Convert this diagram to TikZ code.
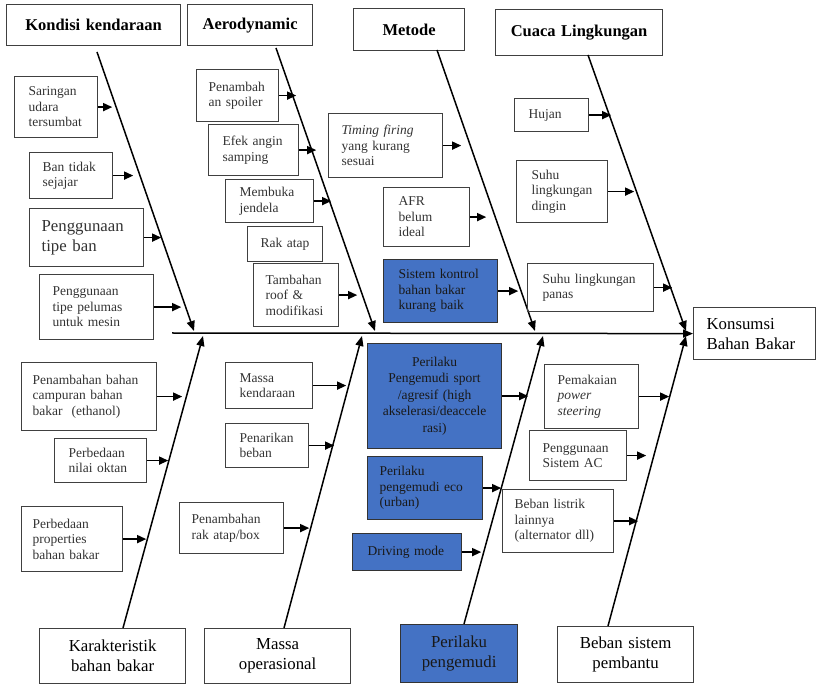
\documentclass[tikz,border=0pt]{standalone}
\usepackage{fontspec}
\setmainfont{Liberation Serif}
\usetikzlibrary{arrows.meta}
\definecolor{bblue}{HTML}{4472C4}
\definecolor{bgray}{HTML}{404040}
\definecolor{tgray}{HTML}{333333}
\newcommand\sbx[8][]{%
  \pgfmathsetmacro\sbw{#5-#3}%
  \pgfmathsetmacro\sbh{#6-#4}%
  \pgfmathsetmacro\sbt{#5-#3-2*#7}%
  \node[#1,inner xsep=#7pt,minimum width=\sbw pt,minimum height=\sbh pt,text width=\sbt pt] (#2) at (#3,#4) {#8};}
\begin{document}
\begin{tikzpicture}[x=1pt,y=-1pt,
  bx/.style={draw=bgray,line width=1.2pt,anchor=north west,inner ysep=1pt},
  sub/.style={bx,text=tgray,font=\fontsize{13.5}{15.5}\selectfont,align=left},
  hdr/.style={bx,text=black,font=\bfseries\fontsize{16.5}{19}\selectfont,align=center},
  lbl/.style={bx,text=black,font=\fontsize{16.8}{20}\selectfont,align=center},
  bluebox/.style={fill=bblue,draw=black!80,text=black!90},
  bone/.style={line width=1.5pt,-{Triangle[length=10pt,width=8pt]}},
  arr/.style={line width=1.4pt,-{Triangle[length=9pt,width=8pt]}}]
\path[use as bounding box] (0,0) rectangle (817,684);
% headers
\sbx[hdr]{hk}{6}{4}{180}{45}{4}{Kondisi kendaraan}
\sbx[hdr]{ha}{187}{4}{312}{45}{4}{Aerodynamic}
\sbx[hdr]{hm}{353}{8}{464}{50}{4}{Metode}
\sbx[hdr]{hc}{495}{9}{662}{55}{4}{Cuaca Lingkungan}
% bottom labels
\sbx[lbl]{lk}{39}{628}{185}{683}{4}{Karakteristik\\bahan bakar}
\sbx[lbl]{lo}{204}{628}{350}{683}{4}{Massa\\operasional}
\sbx[lbl,bluebox]{lp}{400}{624}{517}{682}{4}{Perilaku\\pengemudi}
\sbx[lbl]{lb}{557}{626}{693}{682}{4}{Beban sistem\\pembantu}
% effect
\sbx[lbl,align=left]{ks}{693}{307}{815}{359}{13}{Konsumsi\\Bahan Bakar}
% spine
\coordinate (sp0) at (172,333);
\draw[bone] (sp0) -- (ks.west);
% bones
\coordinate (kb1) at (97,52);   \coordinate (kb2) at (194,331);
\coordinate (ab1) at (276,48);  \coordinate (ab2) at (375,331);
\coordinate (mb1) at (437,50);  \coordinate (mb2) at (535,331);
\coordinate (cb1) at (588,55);  \coordinate (cb2) at (686,331);
\coordinate (lkb1) at (123,628); \coordinate (lkb2) at (203,336);
\coordinate (lob1) at (284,628); \coordinate (lob2) at (362,336);
\coordinate (lpb1) at (464,624); \coordinate (lpb2) at (543,336);
\coordinate (lbb1) at (608,626); \coordinate (lbb2) at (686,336);
\foreach \b in {kb,ab,mb,cb,lkb,lob,lpb,lbb} {\draw[bone] (\b1) -- (\b2);}
% Kondisi kendaraan
\sbx[sub]{s1}{14}{76}{97}{137}{14}{Saringan\\udara\\tersumbat}
\sbx[sub]{s2}{29}{152}{112}{198}{13}{Ban tidak\\sejajar}
\sbx[sub,font=\fontsize{16.8}{19.5}\selectfont]{s3}{29}{208}{143}{266}{12}{Penggunaan\\tipe ban}
\sbx[sub]{s4}{39}{274}{153}{339}{13}{Penggunaan\\tipe pelumas\\untuk mesin}
\draw[arr] (s1.east) -- ++(14,0);
\draw[arr] (s2.east) -- ++(20,0);
\draw[arr] (s3.east) -- ++(17,0);
\draw[arr] (s4.east) -- ++(27,0);
% Aerodynamic
\sbx[sub]{a1}{196}{69}{278}{121}{12}{Penambah\\an spoiler\\[4pt]}
\sbx[sub]{a2}{208}{124}{298}{175}{14}{Efek angin\\samping}
\sbx[sub]{a3}{225}{179}{313}{222}{14}{Membuka\\jendela}
\sbx[sub,align=center]{a4}{247}{226}{322}{261}{4}{Rak atap}
\sbx[sub]{a5}{253}{263}{338}{326}{12}{Tambahan\\roof \&\\modifikasi}
\draw[arr] (a1.east) -- ++(17,0);
\draw[arr] (a2.east) -- ++(17,0);
\draw[arr] (a3.east) -- ++(17,0);
\draw[arr] (a5.east) -- ++(18,0);
% Metode
\sbx[sub]{m1}{328}{113}{442}{177}{13}{\textit{Timing firing}\\yang kurang\\sesuai}
\sbx[sub]{m2}{383}{187}{469}{246}{15}{AFR\\belum\\ideal}
\sbx[sub,bluebox]{m3}{383}{259}{497}{322}{15}{Sistem kontrol\\bahan bakar\\kurang baik}
\draw[arr] (m1.east) -- ++(18,0);
\draw[arr] (m2.east) -- ++(16,0);
\draw[arr] (m3.east) -- ++(20,0);
% Cuaca
\sbx[sub]{c1}{514}{98}{588}{131}{14}{Hujan}
\sbx[sub]{c2}{516}{160}{607}{222}{15}{Suhu\\lingkungan\\dingin}
\sbx[sub]{c3}{527}{263}{653}{311}{15}{Suhu lingkungan\\panas}
\draw[arr] (c1.east) -- ++(22,0);
\draw[arr] (c2.east) -- ++(26,0);
\draw[arr] (c3.east) -- ++(18,0);
% Karakteristik
\sbx[sub]{k1}{21}{362}{156}{430}{11}{Penambahan bahan\\campuran bahan\\bakar\ \ (ethanol)}
\sbx[sub]{k2}{54}{438}{146}{482}{14}{Perbedaan\\nilai oktan}
\sbx[sub]{k3}{21}{506}{122}{571}{11}{Perbedaan\\properties\\bahan bakar}
\draw[arr] (k1.east) -- ++(25,0);
\draw[arr] (k2.east) -- ++(21,0);
\draw[arr] (k3.east) -- ++(23,0);
% Massa
\sbx[sub]{o1}{225}{362}{312}{408}{14}{Massa\\kendaraan}
\sbx[sub]{o2}{225}{423}{308}{467}{14}{Penarikan\\beban}
\sbx[sub]{o3}{179}{502}{283}{553}{12}{Penambahan\\rak atap/box}
\draw[arr] (o1.east) -- ++(33,0);
\draw[arr] (o2.east) -- ++(25,0);
\draw[arr] (o3.east) -- ++(25,0);
% Perilaku
\sbx[sub,bluebox,align=center,font=\fontsize{13.5}{16.5}\selectfont]{p1}{367}{343}{501}{448}{3}{Perilaku\\Pengemudi sport\\/agresif (high\\akselerasi/deaccele\\rasi)}
\sbx[sub,bluebox]{p2}{367}{456}{482}{519}{12}{Perilaku\\pengemudi eco\\(urban)}
\sbx[sub,bluebox]{p3}{352}{533}{461}{570}{15}{Driving mode}
\draw[arr] (p1.east) -- ++(26,0);
\draw[arr] (p2.east) -- ++(18,0);
\draw[arr] (p3.east) -- ++(19,0);
% Beban
\sbx[sub]{b1}{544}{364}{638}{428}{13}{Pemakaian\\\textit{power}\\\textit{steering}}
\sbx[sub]{b2}{529}{430}{626}{480}{13}{Penggunaan\\Sistem AC}
\sbx[sub]{b3}{502}{489}{613}{552}{12}{Beban listrik\\lainnya\\(alternator dll)}
\draw[arr] (b1.east) -- ++(30,0);
\draw[arr] (b2.east) -- ++(19,0);
\draw[arr] (b3.east) -- ++(24,0);
\end{tikzpicture}
\end{document}
